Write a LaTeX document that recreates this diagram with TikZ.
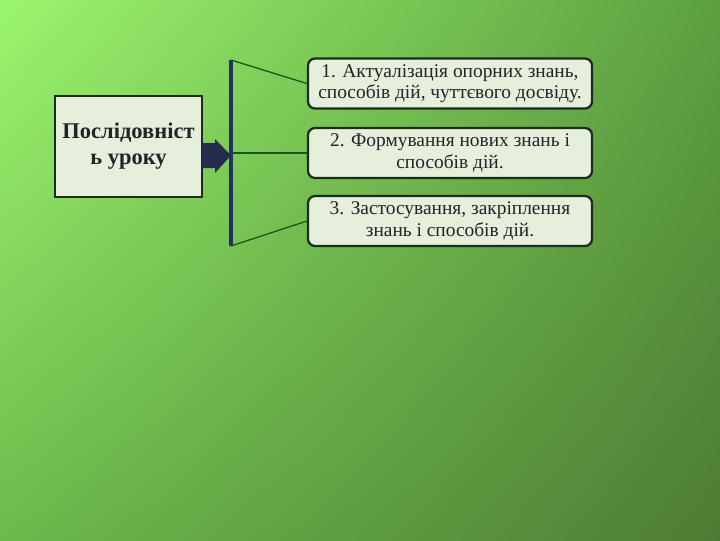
\documentclass[tikz,border=0pt]{standalone}
\usepackage{fontspec}
\setmainfont{Liberation Serif}
\usepackage{xcolor}
\usetikzlibrary{calc}
\usetikzlibrary{positioning}
\usetikzlibrary{shadings}

\definecolor{boxfill}{HTML}{E6EFDC}
\definecolor{boxline}{HTML}{1C2C1C}
\definecolor{barblue}{HTML}{243060}
\definecolor{arrowblue}{HTML}{252C4C}
\definecolor{textdark}{HTML}{1E2626}
\definecolor{bgul}{HTML}{9CF56E}
\definecolor{bgur}{HTML}{5CA040}
\definecolor{bgll}{HTML}{6CBA4C}
\definecolor{bglr}{HTML}{4E7C34}

\newlength{\pxu}\setlength{\pxu}{0.025cm}
\tikzset{
	stagebox/.style={draw=boxline, line width=1.6pt, fill=boxfill, rounded corners=5pt,
		minimum width=284\pxu, minimum height=50\pxu, align=center,
		font=\fontsize{13.8}{15.2}\selectfont, text=textdark, inner sep=1pt},
	mainbox/.style={draw=boxline, line width=1.6pt, fill=boxfill,
		minimum width=147\pxu, minimum height=101\pxu, align=center,
		font=\fontsize{16}{18.5}\selectfont\bfseries, text=textdark, inner sep=1pt},
	link/.style={draw=boxline!80!green, line width=0.9pt}
}

\begin{document}
\begin{tikzpicture}[x=0.025cm,y=-0.025cm]
		\useasboundingbox (0,0) rectangle (720,540);
		\shade[upper left=bgul, upper right=bgur, lower left=bgll, lower right=bglr] (0,0) rectangle (720,540);
		% main box
		\node[mainbox] (lesson) at (128.5,146.5) {Послідовніст\\ь уроку};
		% block arrow
		\fill[arrowblue] (202,143) -- (215,143) -- (215,139) -- (231,155.5) -- (215,173) -- (215,168) -- (202,168) -- cycle;
		% stages
		\node[stagebox] (st1) at (450,83.5) {1. Актуалізація опорних знань,\\способів дій, чуттєвого досвіду.};
		\node[stagebox] (st2) at (450,153) {2. Формування нових знань і\\способів дій.};
		\node[stagebox] (st3) at (450,221) {3. Застосування, закріплення\\знань і способів дій.};
		% bar
		\coordinate (bartop) at (231,60);
		\coordinate (barbot) at (231,246);
		\coordinate (barmid) at (231,153);
		\draw[barblue, line width=3pt] (bartop) -- (barbot);
		\draw[link] (bartop) -- (st1.west);
		\draw[link] (barmid) -- (st2.west);
		\draw[link] (barbot) -- (st3.west);
	\end{tikzpicture}
\end{document}
